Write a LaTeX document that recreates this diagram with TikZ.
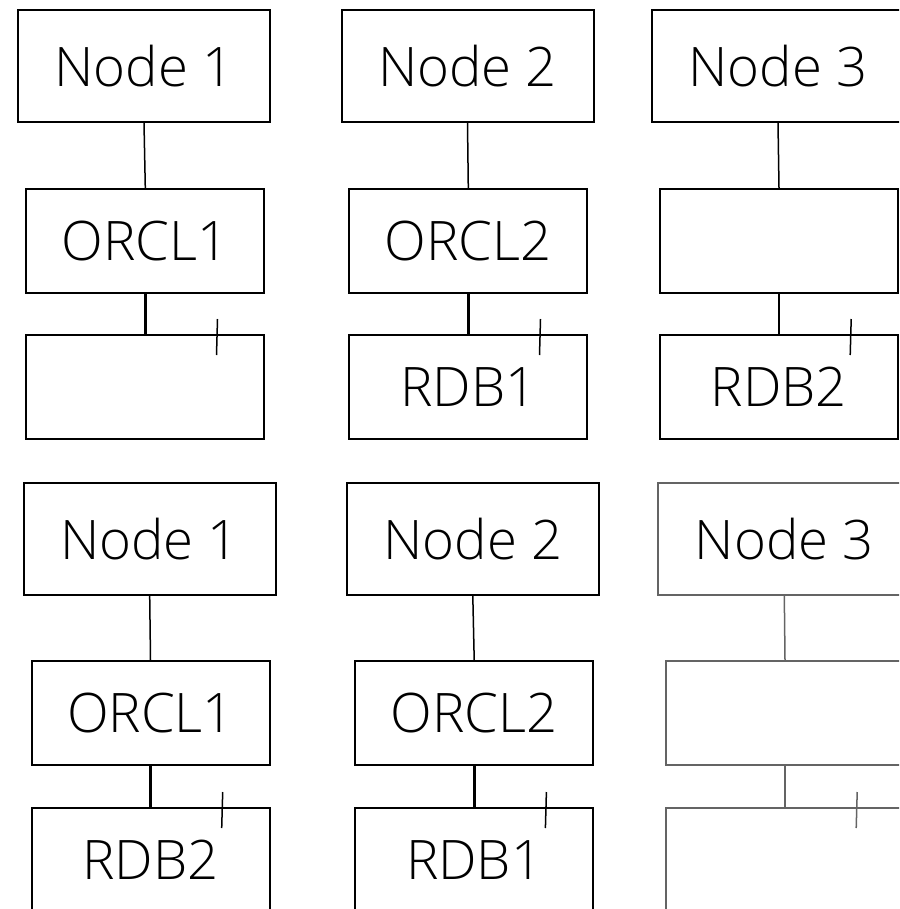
\documentclass[tikz,border=0pt]{standalone}
\usepackage{fontspec}
\setmainfont{Open Sans Light}
\definecolor{dimline}{RGB}{100,100,100}
\begin{document}
\begin{tikzpicture}[x=1pt,y=-1pt,
  box/.style={draw,line width=2pt,inner sep=0pt,minimum width=238pt,minimum height=104pt,
              font=\fontsize{54.5}{65}\selectfont},
  hostbox/.style={box,minimum width=252pt,minimum height=112pt},
  uplink/.style={line width=1.5pt},
  dblink/.style={line width=2.6pt},
  tickmark/.style={line width=1.5pt},
  faded/.style={draw=dimline}
]
\useasboundingbox (0,0) rectangle (899,909);
\clip (0,0) rectangle (899,909);

% ---- upper stack ----
\node[hostbox] (n1a) at (144,66)   {Node 1};
\node[box]     (o1a) at (145.3,241) {ORCL1};
\node[box]     (d1a) at (145.3,387) {};

\node[hostbox] (n2a) at (467.5,66) {Node 2};
\node[box]     (o2a) at (468.3,241) {ORCL2};
\node[box]     (d2a) at (468.3,387) {RDB1};

\node[hostbox] (n3a) at (778,66)   {Node 3};
\node[box]     (o3a) at (779,241)  {};
\node[box]     (d3a) at (779,387)  {RDB2};

% ---- lower stack ----
\node[hostbox] (n1b) at (149.7,538.8) {Node 1};
\node[box]     (o1b) at (150.5,713)   {ORCL1};
\node[box]     (d1b) at (150.5,860)   {RDB2};

\node[hostbox] (n2b) at (472.8,538.8) {Node 2};
\node[box]     (o2b) at (474.2,713)   {ORCL2};
\node[box]     (d2b) at (474.2,860)   {RDB1};

\node[hostbox,faded] (n3b) at (784.3,538.8) {Node 3};
\node[box,faded]     (o3b) at (785,713)     {};
\node[box,faded]     (d3b) at (785,860)     {};

% ---- links ----
\foreach \n/\o/\d/\c in {n1a/o1a/d1a/black, n2a/o2a/d2a/black, n3a/o3a/d3a/black,
                         n1b/o1b/d1b/black, n2b/o2b/d2b/black, n3b/o3b/d3b/dimline}{
  \draw[uplink,\c] (\n.south) -- (\o.north);
  \draw[dblink,\c] (\o.south) -- (\d.north);
  \draw[tickmark,\c] ([shift={(192.2,-15)}]\d.north west) -- ([shift={(191.2,21)}]\d.north west);
}
\end{tikzpicture}
\end{document}
